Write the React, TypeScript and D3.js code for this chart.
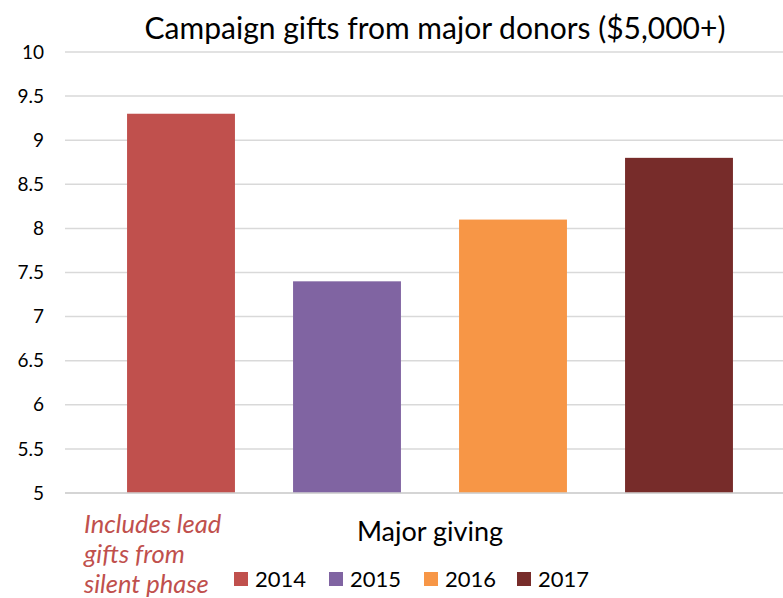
import * as d3 from "d3";
import { useEffect, useRef } from "react";

// chart data
const years = ["2014", "2015", "2016", "2017"];
const gifts = [9.3, 7.4, 8.1, 8.8];
const colors = ["#C0504D", "#8064A2", "#F79646", "#772C2A"];
const yTicks = [5, 5.5, 6, 6.5, 7, 7.5, 8, 8.5, 9, 9.5, 10];
const noteLines = ["Includes lead", "gifts from", "silent phase"];

const title = "Campaign gifts from major donors ($5,000+)";
const categoryLabel = "Major giving";

const W = 783;
const H = 598;
const font = "Lato, 'Open Sans', sans-serif";

const App = () => {
  const ref = useRef<SVGSVGElement>(null);

  useEffect(() => {
    if (!ref.current) return;
    const svg = d3.select(ref.current);
    svg.selectAll("*").remove();

    const plotLeft = 65;
    const plotRight = W;

    const y = d3.scaleLinear().domain([5, 10]).range([493, 52]);
    const x = d3
      .scaleBand<string>()
      .domain(years)
      .range([98, 762])
      .paddingInner(0.35)
      .paddingOuter(0.175);

    // gridlines
    svg
      .append("g")
      .selectAll("line")
      .data(yTicks)
      .enter()
      .append("line")
      .attr("x1", plotLeft)
      .attr("x2", plotRight)
      .attr("y1", (d) => y(d))
      .attr("y2", (d) => y(d))
      .attr("stroke", "#d9d9d9")
      .attr("stroke-width", 1.5);

    // tick labels
    svg
      .append("g")
      .selectAll("text")
      .data(yTicks)
      .enter()
      .append("text")
      .attr("x", 44)
      .attr("y", (d) => y(d))
      .attr("dy", "0.35em")
      .attr("text-anchor", "end")
      .style("font-family", font)
      .style("font-size", "19px")
      .style("fill", "#000")
      .text((d) => String(d));

    // bars
    svg
      .append("g")
      .selectAll("rect")
      .data(gifts)
      .enter()
      .append("rect")
      .attr("x", (_d, i) => x(years[i]) as number)
      .attr("width", x.bandwidth())
      .attr("y", (d) => y(d))
      .attr("height", (d) => y(5) - y(d))
      .attr("fill", (_d, i) => colors[i]);

    // baseline
    svg
      .append("line")
      .attr("x1", plotLeft)
      .attr("x2", plotRight)
      .attr("y1", y(5))
      .attr("y2", y(5))
      .attr("stroke", "#d0d0d0")
      .attr("stroke-width", 1.5);

    // title
    svg
      .append("text")
      .attr("x", 435)
      .attr("y", 39)
      .attr("text-anchor", "middle")
      .style("font-family", font)
      .style("font-size", "30px")
      .style("fill", "#000")
      .text(title);

    // category label
    svg
      .append("text")
      .attr("x", 430)
      .attr("y", 541)
      .attr("text-anchor", "middle")
      .style("font-family", font)
      .style("font-size", "27px")
      .style("fill", "#000")
      .text(categoryLabel);

    // legend
    const legendX = [234, 329, 424, 517];
    const legend = svg
      .append("g")
      .selectAll("g")
      .data(years)
      .enter()
      .append("g")
      .attr("transform", (_d, i) => `translate(${legendX[i]}, 572)`);
    legend
      .append("rect")
      .attr("width", 14)
      .attr("height", 14)
      .attr("fill", (_d, i) => colors[i]);
    legend
      .append("text")
      .attr("x", 21)
      .attr("y", 15)
      .style("font-family", font)
      .style("font-size", "22px")
      .style("fill", "#000")
      .text((d) => d);

    // annotation
    svg
      .append("g")
      .selectAll("text")
      .data(noteLines)
      .enter()
      .append("text")
      .attr("x", 84)
      .attr("y", (_d, i) => 533 + i * 30)
      .style("font-family", font)
      .style("font-style", "italic")
      .style("font-size", "25.5px")
      .style("fill", "#C0504D")
      .text((d) => d);
  }, []);

  return (
    <svg
      ref={ref}
      width={W}
      height={H}
      style={{ position: "absolute", left: 0, top: 0, background: "#fff" }}
    ></svg>
  );
};

export default App;
